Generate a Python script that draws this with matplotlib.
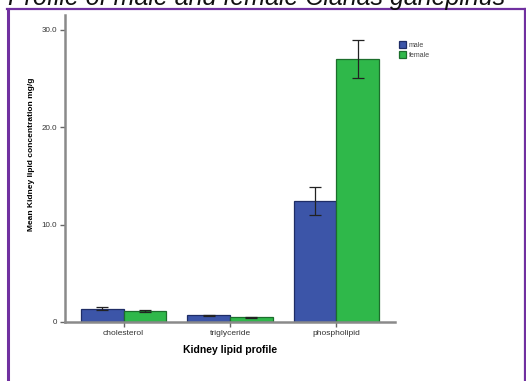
import matplotlib
matplotlib.use("Agg")
import matplotlib.pyplot as plt
from matplotlib.lines import Line2D
import numpy as np

categories = ["cholesterol", "triglyceride", "phospholipid"]
male_mean = [1.35, 0.70, 12.4]
male_err = [0.15, 0.05, 1.45]
female_mean = [1.15, 0.50, 27.0]
female_err = [0.12, 0.04, 1.95]
y_ticks = [0, 10, 20, 30]
y_tick_labels = ["0", "10.0", "20.0", "30.0"]

W, H = 526, 381
fig = plt.figure(figsize=(W / 100, H / 100), dpi=100)
plt.rcParams["font.family"] = ["Liberation Sans", "DejaVu Sans"]

# figure title, partly clipped at the top edge
fig.text(8 / W, 1 - 5.5 / H, "Profile of male and female Clarias gariepinus",
         fontsize=18, style="italic", color="#111111", ha="left", va="baseline")

# purple frame
purple = "#7030a0"
frame_lw = 1.6
fig.add_artist(Line2D([8 / W, 8 / W], [0, 1 - 8.5 / H], color=purple, lw=2.2,
                      transform=fig.transFigure))
fig.add_artist(Line2D([7 / W, 525 / W], [1 - 8.5 / H, 1 - 8.5 / H], color=purple,
                      lw=frame_lw, transform=fig.transFigure))
fig.add_artist(Line2D([524.5 / W, 524.5 / W], [0, 1 - 8.5 / H], color=purple,
                      lw=frame_lw, transform=fig.transFigure))

left, right, bottom, top = 65, 395, 322, 15
ax = fig.add_axes([left / W, 1 - bottom / H, (right - left) / W, (bottom - top) / H])

x = np.arange(len(categories))
bw = 0.40
blue = "#3c55a8"
green = "#2fb84a"
ax.bar(x - bw / 2, male_mean, bw, color=blue, edgecolor="#1f2d66", linewidth=0.9,
       label="male", zorder=2)
ax.bar(x + bw / 2, female_mean, bw, color=green, edgecolor="#1c6e2c", linewidth=0.9,
       label="female", zorder=2)
ax.errorbar(x - bw / 2, male_mean, yerr=male_err, fmt="none", ecolor="#222222",
            elinewidth=0.9, capsize=4, capthick=0.9, zorder=3)
ax.errorbar(x + bw / 2, female_mean, yerr=female_err, fmt="none", ecolor="#222222",
            elinewidth=0.9, capsize=4, capthick=0.9, zorder=3)

ax.set_xlim(-0.55, 2.55)
ax.set_ylim(0, 31.5)

for s in ("top", "right"):
    ax.spines[s].set_visible(False)
for s in ("left", "bottom"):
    ax.spines[s].set_color("#8a8a8a")
    ax.spines[s].set_linewidth(1.8)

ax.set_xticks(x)
ax.set_xticklabels(categories, fontsize=6, color="#333333")
ax.set_yticks(y_ticks)
ax.set_yticklabels(y_tick_labels, fontsize=5.8, color="#333333")
ax.tick_params(axis="both", direction="out", length=3.5, width=1.0, color="#666666", pad=2)

ax.set_xlabel("Kidney lipid profile", fontsize=7.5, fontweight="bold", labelpad=6)
ax.set_ylabel("Mean Kidney lipid concentration mg/g", fontsize=6, fontweight="bold")
ax.yaxis.set_label_coords(-0.09, 0.545)

leg = ax.legend(loc="upper left", bbox_to_anchor=(1.0, 0.93), frameon=False,
                fontsize=5, handlelength=1.0, handleheight=1.3, handletextpad=0.4,
                labelspacing=0.3, borderaxespad=0.2)
for t in leg.get_texts():
    t.set_color("#444444")

fig.savefig("out.png", dpi=100)
